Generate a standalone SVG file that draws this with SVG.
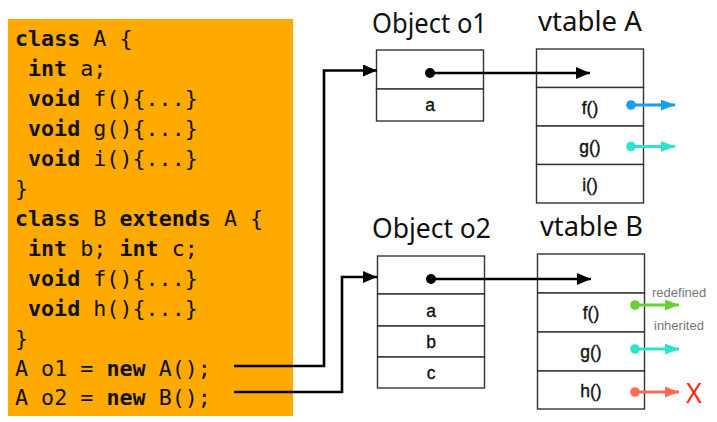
<svg xmlns="http://www.w3.org/2000/svg" width="717" height="422" viewBox="0 0 717 422">
<style>
.code{font-family:"DejaVu Sans Mono","Liberation Mono",monospace;font-size:21.7px;fill:#111}
.k{font-weight:bold}
.title{font-family:"Noto Sans","Open Sans",sans-serif;font-size:26.5px;fill:#111}
.cell{fill:#fff;stroke:#333;stroke-width:1.4}
.lbl{font-family:"Liberation Sans",Arial,sans-serif;font-size:17.5px;fill:#111;text-anchor:middle;stroke:#111;stroke-width:0.35}
.ptr{fill:none;stroke:#000;stroke-width:2.6}
.note{font-family:"Liberation Sans",Arial,sans-serif;font-size:13px;fill:#777}
</style>
<defs>
<marker id="ab" markerUnits="userSpaceOnUse" markerWidth="14" markerHeight="12" refX="14" refY="6" orient="auto"><path d="M0,0 L14,6 L0,12 z" fill="#000"/></marker>
<marker id="ablue" markerUnits="userSpaceOnUse" markerWidth="14" markerHeight="11" refX="14" refY="5.5" orient="auto"><path d="M0,0 L14,5.5 L0,11 z" fill="#1a9cf0"/></marker>
<marker id="acyan" markerUnits="userSpaceOnUse" markerWidth="14" markerHeight="11" refX="14" refY="5.5" orient="auto"><path d="M0,0 L14,5.5 L0,11 z" fill="#2ee3cb"/></marker>
<marker id="agreen" markerUnits="userSpaceOnUse" markerWidth="14" markerHeight="11" refX="14" refY="5.5" orient="auto"><path d="M0,0 L14,5.5 L0,11 z" fill="#66d034"/></marker>
<marker id="ared" markerUnits="userSpaceOnUse" markerWidth="14" markerHeight="11" refX="14" refY="5.5" orient="auto"><path d="M0,0 L14,5.5 L0,11 z" fill="#ff6a55"/></marker>
</defs>

<g id="code">
<rect x="8" y="19" width="285" height="397" fill="#ffaa00"/>
<text class="code" x="15" y="46"><tspan class="k">class</tspan> A {</text>
<text class="code" x="28" y="76"><tspan class="k">int</tspan> a;</text>
<text class="code" x="28" y="106"><tspan class="k">void</tspan> f(){...}</text>
<text class="code" x="28" y="136"><tspan class="k">void</tspan> g(){...}</text>
<text class="code" x="28" y="166"><tspan class="k">void</tspan> i(){...}</text>
<text class="code" x="15" y="196">}</text>
<text class="code" x="15" y="226"><tspan class="k">class</tspan> B <tspan class="k">extends</tspan> A {</text>
<text class="code" x="28" y="256"><tspan class="k">int</tspan> b; <tspan class="k">int</tspan> c;</text>
<text class="code" x="28" y="286"><tspan class="k">void</tspan> f(){...}</text>
<text class="code" x="28" y="316"><tspan class="k">void</tspan> h(){...}</text>
<text class="code" x="15" y="346">}</text>
<text class="code" x="15" y="376">A o1 = <tspan class="k">new</tspan> A();</text>
<text class="code" x="15" y="405">A o2 = <tspan class="k">new</tspan> B();</text>
</g>

<g id="object-o1">
<text class="title" x="372" y="33" textLength="115" lengthAdjust="spacingAndGlyphs">Object o1</text>
<rect class="cell" x="376.5" y="50" width="107" height="39"/>
<rect class="cell" x="376.5" y="89" width="107" height="32"/>
<text class="lbl" x="430" y="111">a</text>
</g>

<g id="vtable-a">
<text class="title" x="538" y="31" textLength="104" lengthAdjust="spacingAndGlyphs">vtable A</text>
<rect class="cell" x="536.5" y="49" width="107" height="38.5"/>
<rect class="cell" x="536.5" y="87.5" width="107" height="38.5"/>
<rect class="cell" x="536.5" y="126" width="107" height="38.5"/>
<rect class="cell" x="536.5" y="164.5" width="107" height="38.5"/>
<text class="lbl" x="590" y="114">f()</text>
<text class="lbl" x="590" y="153">g()</text>
<text class="lbl" x="590" y="191">i()</text>
</g>

<g id="object-o2">
<text class="title" x="372" y="238" textLength="119" lengthAdjust="spacingAndGlyphs">Object o2</text>
<rect class="cell" x="377.5" y="256" width="107" height="38"/>
<rect class="cell" x="377.5" y="294" width="107" height="32"/>
<rect class="cell" x="377.5" y="326" width="107" height="31"/>
<rect class="cell" x="377.5" y="357" width="107" height="31"/>
<text class="lbl" x="431" y="317">a</text>
<text class="lbl" x="431" y="348">b</text>
<text class="lbl" x="431" y="379">c</text>
</g>

<g id="vtable-b">
<text class="title" x="540" y="236" textLength="103" lengthAdjust="spacingAndGlyphs">vtable B</text>
<rect class="cell" x="537.5" y="254" width="107" height="39"/>
<rect class="cell" x="537.5" y="293" width="107" height="39"/>
<rect class="cell" x="537.5" y="332" width="107" height="39"/>
<rect class="cell" x="537.5" y="371" width="107" height="38"/>
<text class="lbl" x="591" y="319">f()</text>
<text class="lbl" x="591" y="358">g()</text>
<text class="lbl" x="591" y="397">h()</text>
</g>

<g id="connectors">
<path class="ptr" d="M234,366 H324 V70.5 H377" marker-end="url(#ab)"/>
<path class="ptr" d="M234,392 H342 V277 H377" marker-end="url(#ab)"/>
<circle cx="430" cy="73" r="5" fill="#000"/>
<path class="ptr" d="M430,73 H590" marker-end="url(#ab)"/>
<circle cx="431" cy="279" r="5" fill="#000"/>
<path class="ptr" d="M431,279 H591" marker-end="url(#ab)"/>

<circle cx="631" cy="105" r="4.8" fill="#1a9cf0"/>
<path d="M631,105 H675" stroke="#1a9cf0" stroke-width="2.8" marker-end="url(#ablue)"/>
<circle cx="631" cy="146.5" r="4.8" fill="#2ee3cb"/>
<path d="M631,146.5 H675" stroke="#2ee3cb" stroke-width="2.8" marker-end="url(#acyan)"/>

<circle cx="635" cy="305" r="4.8" fill="#66d034"/>
<path d="M635,305 H679" stroke="#66d034" stroke-width="2.8" marker-end="url(#agreen)"/>
<circle cx="635" cy="349" r="4.8" fill="#2ee3cb"/>
<path d="M635,349 H679" stroke="#2ee3cb" stroke-width="2.8" marker-end="url(#acyan)"/>
<circle cx="635" cy="392" r="4.8" fill="#ff6a55"/>
<path d="M635,392 H679" stroke="#ff6a55" stroke-width="2.8" marker-end="url(#ared)"/>

<text class="note" x="652" y="297">redefined</text>
<text class="note" x="654" y="330">inherited</text>
<text x="686" y="403" font-family="Noto Sans,Open Sans,sans-serif" font-size="27px" fill="#ff2a1a">X</text>
</g>
</svg>
